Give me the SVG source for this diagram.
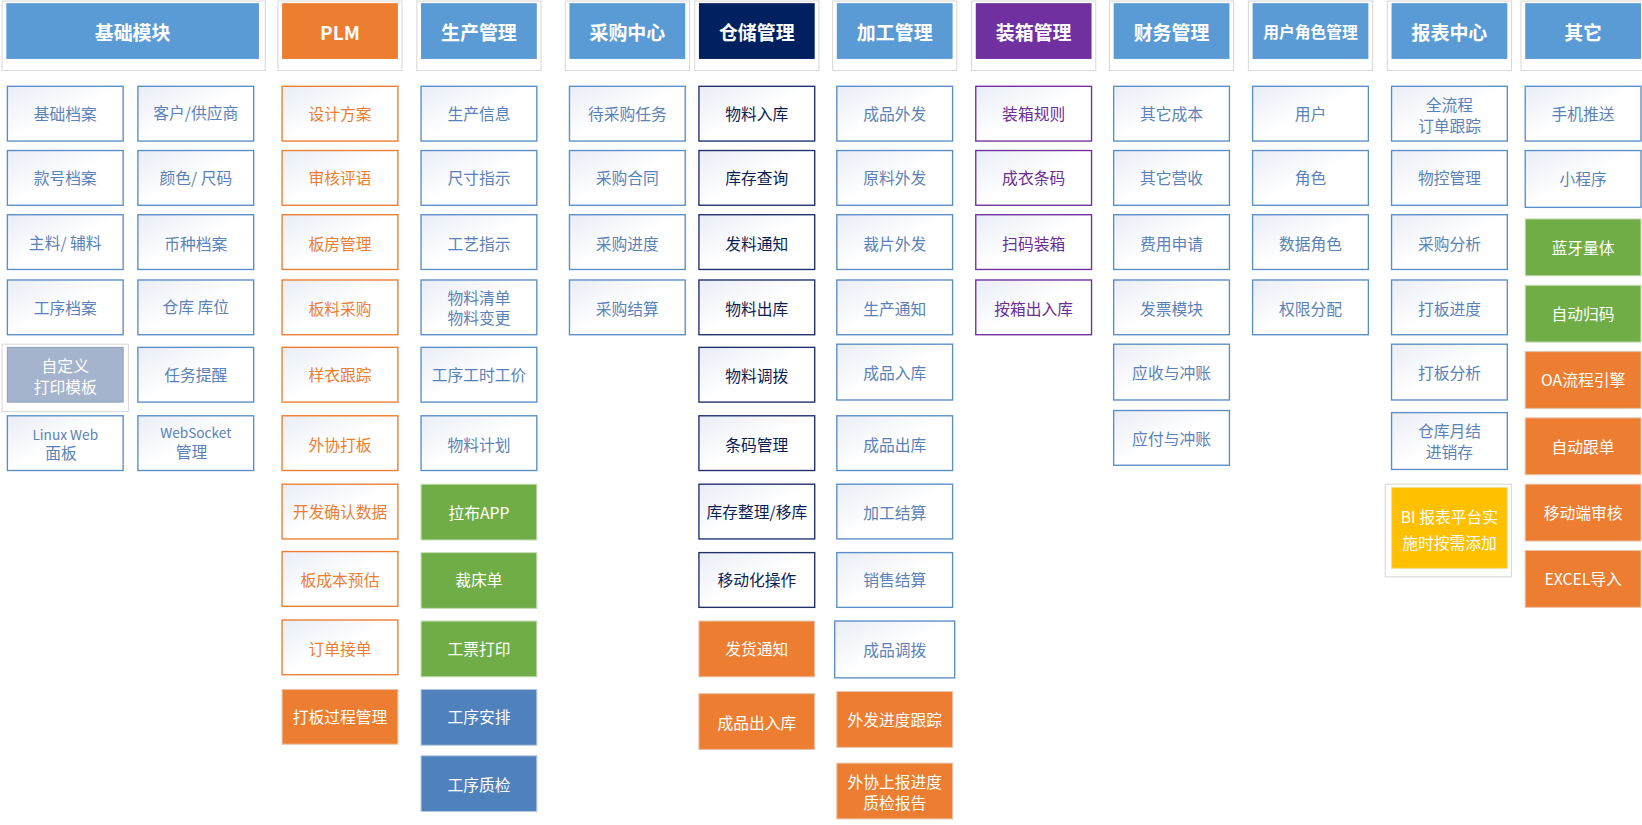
<svg xmlns="http://www.w3.org/2000/svg" width="1642" height="825" viewBox="0 0 1642 825">
<defs>
<linearGradient id="g" x1="0" y1="0" x2="1" y2="1"><stop offset="0" stop-color="#E9EDF6"/><stop offset="0.5" stop-color="#FFFFFF"/><stop offset="1" stop-color="#FFFFFF"/></linearGradient>
</defs>
<style>
text{font-family:"Noto Sans CJK SC","Liberation Sans",sans-serif;text-anchor:middle;dominant-baseline:central;font-size:15px}
.n rect{fill:url(#g);stroke:#5B8FC7;stroke-width:1.3}
.n text{fill:#5A82B8}
.o rect{fill:url(#g);stroke:#ED7D31;stroke-width:1.3}
.o text{fill:#ED7D31}
.k rect{fill:url(#g);stroke:#1F2F6B;stroke-width:1.3}
.k text{fill:#0B1D55}
.p rect{fill:url(#g);stroke:#7030A0;stroke-width:1.3}
.p text{fill:#6A2C95}
.fo rect{fill:#ED7D31;stroke:#E5C2A8;stroke-width:1}
.fg rect{fill:#70AD47;stroke:#C8DDB9;stroke-width:1}
.fb rect{fill:#4F81BD;stroke:#B8C9E0;stroke-width:1}
.fy rect{fill:#FFC000;stroke:#F0E0A0;stroke-width:1}
.fgr rect{fill:#A5B4CC;stroke:#8FA0BA;stroke-width:1}
.fo text,.fg text,.fb text,.fy text,.fgr text{fill:#FFFFFF}
.h rect.f{stroke:none}
.h text{fill:#FFFFFF;font-size:18px;font-weight:bold}
.fr{fill:#FFFFFF;stroke:#D9D9D9;stroke-width:1}
.fgr rect.fr,.fy rect.fr{fill:#FFFFFF;stroke:#D9D9D9}
</style>
<g transform="scale(1.0526)">
<g id="headers">
<g id="h1" class="h"><rect class="fr" x="2" y="1" width="250" height="66"/><rect class="f" x="6" y="3" width="240" height="53" fill="#5B9BD5"/><text x="126" y="30">基础模块</text></g>
<g id="h2" class="h"><rect class="fr" x="264" y="1" width="118" height="66"/><rect class="f" x="268" y="3" width="110" height="53" fill="#ED7D31"/><text x="323" y="30">PLM</text></g>
<g id="h3" class="h"><rect class="fr" x="396" y="1" width="118" height="66"/><rect class="f" x="400" y="3" width="110" height="53" fill="#5B9BD5"/><text x="455" y="30">生产管理</text></g>
<g id="h4" class="h"><rect class="fr" x="537" y="1" width="118" height="66"/><rect class="f" x="541" y="3" width="110" height="53" fill="#5B9BD5"/><text x="596" y="30">采购中心</text></g>
<g id="h5" class="h"><rect class="fr" x="660" y="1" width="118" height="66"/><rect class="f" x="664" y="3" width="110" height="53" fill="#002060"/><text x="719" y="30">仓储管理</text></g>
<g id="h6" class="h"><rect class="fr" x="791" y="1" width="118" height="66"/><rect class="f" x="795" y="3" width="110" height="53" fill="#5B9BD5"/><text x="850" y="30">加工管理</text></g>
<g id="h7" class="h"><rect class="fr" x="923" y="1" width="118" height="66"/><rect class="f" x="927" y="3" width="110" height="53" fill="#7030A0"/><text x="982" y="30">装箱管理</text></g>
<g id="h8" class="h"><rect class="fr" x="1054" y="1" width="118" height="66"/><rect class="f" x="1058" y="3" width="110" height="53" fill="#5B9BD5"/><text x="1113" y="30">财务管理</text></g>
<g id="h9" class="h"><rect class="fr" x="1186" y="1" width="118" height="66"/><rect class="f" x="1190" y="3" width="110" height="53" fill="#5B9BD5"/><text x="1245" y="30" style="font-size:15px">用户角色管理</text></g>
<g id="h10" class="h"><rect class="fr" x="1318" y="1" width="118" height="66"/><rect class="f" x="1322" y="3" width="110" height="53" fill="#5B9BD5"/><text x="1377" y="30">报表中心</text></g>
<g id="h11" class="h"><rect class="fr" x="1445" y="1" width="118" height="66"/><rect class="f" x="1449" y="3" width="110" height="53" fill="#5B9BD5"/><text x="1504" y="30">其它</text></g>
</g>
<g id="col1">
<g id="a1" class="n"><rect x="7" y="82" width="110" height="52"/><text x="62" y="108">基础档案</text></g>
<g id="a2" class="n"><rect x="7" y="143" width="110" height="52"/><text x="62" y="169">款号档案</text></g>
<g id="a3" class="n"><rect x="7" y="204" width="110" height="52"/><text x="62" y="230">主料/ 辅料</text></g>
<g id="a4" class="n"><rect x="7" y="266" width="110" height="52"/><text x="62" y="292">工序档案</text></g>
<g id="a5" class="fgr"><rect class="fr" x="2" y="327" width="120" height="64"/><rect x="7" y="330" width="110" height="52"/><text x="62" y="347">自定义</text><text x="62" y="367">打印模板</text></g>
<g id="a6" class="n"><rect x="7" y="395" width="110" height="52"/><text x="62" y="412" style="font-size:13px">Linux Web</text><text x="58" y="430">面板</text></g>
</g>
<g id="col2">
<g id="b1" class="n"><rect x="131" y="82" width="110" height="52"/><text x="186" y="107">客户/供应商</text></g>
<g id="b2" class="n"><rect x="131" y="143" width="110" height="52"/><text x="186" y="169">颜色/ 尺码</text></g>
<g id="b3" class="n"><rect x="131" y="204" width="110" height="52"/><text x="186" y="231">币种档案</text></g>
<g id="b4" class="n"><rect x="131" y="266" width="110" height="52"/><text x="186" y="291">仓库  库位</text></g>
<g id="b5" class="n"><rect x="131" y="330" width="110" height="52"/><text x="186" y="356">任务提醒</text></g>
<g id="b6" class="n"><rect x="131" y="395" width="110" height="52"/><text x="186" y="410" style="font-size:13px">WebSocket</text><text x="182" y="429">管理</text></g>
</g>
<g id="plm">
<g class="o" id="c1"><rect x="268" y="82" width="110" height="52"/><text x="323" y="108">设计方案</text></g>
<g class="o" id="c2"><rect x="268" y="143" width="110" height="52"/><text x="323" y="169">审核评语</text></g>
<g class="o" id="c3"><rect x="268" y="204" width="110" height="52"/><text x="323" y="231">板房管理</text></g>
<g class="o" id="c4"><rect x="268" y="266" width="110" height="52"/><text x="323" y="293">板料采购</text></g>
<g class="o" id="c5"><rect x="268" y="330" width="110" height="52"/><text x="323" y="356">样衣跟踪</text></g>
<g class="o" id="c6"><rect x="268" y="395" width="110" height="52"/><text x="323" y="422">外协打板</text></g>
<g class="o" id="c7"><rect x="268" y="460" width="110" height="52"/><text x="323" y="486">开发确认数据</text></g>
<g class="o" id="c8"><rect x="268" y="524" width="110" height="52"/><text x="323" y="551">板成本预估</text></g>
<g class="o" id="c9"><rect x="268" y="589" width="110" height="52"/><text x="323" y="616">订单接单</text></g>
<g class="fo" id="c10"><rect x="268" y="655" width="110" height="52"/><text x="323" y="681">打板过程管理</text></g>
</g>
<g id="prod">
<g class="n" id="d1"><rect x="400" y="82" width="110" height="52"/><text x="455" y="108">生产信息</text></g>
<g class="n" id="d2"><rect x="400" y="143" width="110" height="52"/><text x="455" y="169">尺寸指示</text></g>
<g class="n" id="d3"><rect x="400" y="204" width="110" height="52"/><text x="455" y="231">工艺指示</text></g>
<g class="n" id="d4"><rect x="400" y="266" width="110" height="52"/><text x="455" y="283">物料清单</text><text x="455" y="302">物料变更</text></g>
<g class="n" id="d5"><rect x="400" y="330" width="110" height="52"/><text x="455" y="356">工序工时工价</text></g>
<g class="n" id="d6"><rect x="400" y="395" width="110" height="52"/><text x="455" y="422">物料计划</text></g>
<g class="fg" id="d7"><rect x="400" y="460" width="110" height="53"/><text x="455" y="487">拉布APP</text></g>
<g class="fg" id="d8"><rect x="400" y="525" width="110" height="53"/><text x="455" y="551">裁床单</text></g>
<g class="fg" id="d9"><rect x="400" y="590" width="110" height="53"/><text x="455" y="616">工票打印</text></g>
<g class="fb" id="d10"><rect x="400" y="655" width="110" height="53"/><text x="455" y="681">工序安排</text></g>
<g class="fb" id="d11"><rect x="400" y="718" width="110" height="53"/><text x="455" y="745">工序质检</text></g>
</g>
<g id="purch">
<g class="n" id="e1"><rect x="541" y="82" width="110" height="52"/><text x="596" y="108">待采购任务</text></g>
<g class="n" id="e2"><rect x="541" y="143" width="110" height="52"/><text x="596" y="169">采购合同</text></g>
<g class="n" id="e3"><rect x="541" y="204" width="110" height="52"/><text x="596" y="231">采购进度</text></g>
<g class="n" id="e4"><rect x="541" y="266" width="110" height="52"/><text x="596" y="293">采购结算</text></g>
</g>
<g id="wh">
<g class="k" id="f1"><rect x="664" y="82" width="110" height="52"/><text x="719" y="108">物料入库</text></g>
<g class="k" id="f2"><rect x="664" y="143" width="110" height="52"/><text x="719" y="169">库存查询</text></g>
<g class="k" id="f3"><rect x="664" y="204" width="110" height="52"/><text x="719" y="231">发料通知</text></g>
<g class="k" id="f4"><rect x="664" y="266" width="110" height="52"/><text x="719" y="293">物料出库</text></g>
<g class="k" id="f5"><rect x="664" y="330" width="110" height="52"/><text x="719" y="357">物料调拨</text></g>
<g class="k" id="f6"><rect x="664" y="395" width="110" height="52"/><text x="719" y="422">条码管理</text></g>
<g class="k" id="f7"><rect x="664" y="460" width="110" height="52"/><text x="719" y="486">库存整理/移库</text></g>
<g class="k" id="f8"><rect x="664" y="525" width="110" height="52"/><text x="719" y="551">移动化操作</text></g>
<g class="fo" id="f9"><rect x="664" y="590" width="110" height="53"/><text x="719" y="616">发货通知</text></g>
<g class="fo" id="f10"><rect x="664" y="659" width="110" height="53"/><text x="719" y="686">成品出入库</text></g>
</g>
<g id="proc">
<g class="n" id="g1"><rect x="795" y="82" width="110" height="52"/><text x="850" y="108">成品外发</text></g>
<g class="n" id="g2"><rect x="795" y="143" width="110" height="52"/><text x="850" y="169">原料外发</text></g>
<g class="n" id="g3"><rect x="795" y="204" width="110" height="52"/><text x="850" y="231">裁片外发</text></g>
<g class="n" id="g4"><rect x="795" y="266" width="110" height="52"/><text x="850" y="293">生产通知</text></g>
<g class="n" id="g5"><rect x="795" y="327" width="110" height="53"/><text x="850" y="354">成品入库</text></g>
<g class="n" id="g6"><rect x="795" y="395" width="110" height="52"/><text x="850" y="422">成品出库</text></g>
<g class="n" id="g7"><rect x="795" y="460" width="110" height="52"/><text x="850" y="487">加工结算</text></g>
<g class="n" id="g8"><rect x="795" y="525" width="110" height="52"/><text x="850" y="551">销售结算</text></g>
<g class="n" id="g9"><rect x="793" y="590" width="114" height="54"/><text x="850" y="617">成品调拨</text></g>
<g class="fo" id="g10"><rect x="795" y="657" width="110" height="53"/><text x="850" y="684">外发进度跟踪</text></g>
<g class="fo" id="g11"><rect x="795" y="725" width="110" height="53"/><text x="850" y="742">外协上报进度</text><text x="850" y="762">质检报告</text></g>
</g>
<g id="pack">
<g class="p" id="p1"><rect x="927" y="82" width="110" height="52"/><text x="982" y="108">装箱规则</text></g>
<g class="p" id="p2"><rect x="927" y="143" width="110" height="52"/><text x="982" y="169">成衣条码</text></g>
<g class="p" id="p3"><rect x="927" y="204" width="110" height="52"/><text x="982" y="231">扫码装箱</text></g>
<g class="p" id="p4"><rect x="927" y="266" width="110" height="52"/><text x="982" y="293">按箱出入库</text></g>
</g>
<g id="fin">
<g class="n" id="q1"><rect x="1058" y="82" width="110" height="52"/><text x="1113" y="108">其它成本</text></g>
<g class="n" id="q2"><rect x="1058" y="143" width="110" height="52"/><text x="1113" y="169">其它营收</text></g>
<g class="n" id="q3"><rect x="1058" y="204" width="110" height="52"/><text x="1113" y="231">费用申请</text></g>
<g class="n" id="q4"><rect x="1058" y="266" width="110" height="52"/><text x="1113" y="293">发票模块</text></g>
<g class="n" id="q5"><rect x="1058" y="327" width="110" height="53"/><text x="1113" y="354">应收与冲账</text></g>
<g class="n" id="q6"><rect x="1058" y="390" width="110" height="52"/><text x="1113" y="417">应付与冲账</text></g>
</g>
<g id="user">
<g class="n" id="u1"><rect x="1190" y="82" width="110" height="52"/><text x="1245" y="108">用户</text></g>
<g class="n" id="u2"><rect x="1190" y="143" width="110" height="52"/><text x="1245" y="169">角色</text></g>
<g class="n" id="u3"><rect x="1190" y="204" width="110" height="52"/><text x="1245" y="231">数据角色</text></g>
<g class="n" id="u4"><rect x="1190" y="266" width="110" height="52"/><text x="1245" y="293">权限分配</text></g>
</g>
<g id="rep">
<g class="n" id="r1"><rect x="1322" y="82" width="110" height="52"/><text x="1377" y="99">全流程</text><text x="1377" y="119">订单跟踪</text></g>
<g class="n" id="r2"><rect x="1322" y="143" width="110" height="52"/><text x="1377" y="169">物控管理</text></g>
<g class="n" id="r3"><rect x="1322" y="204" width="110" height="52"/><text x="1377" y="231">采购分析</text></g>
<g class="n" id="r4"><rect x="1322" y="266" width="110" height="52"/><text x="1377" y="293">打板进度</text></g>
<g class="n" id="r5"><rect x="1322" y="327" width="110" height="53"/><text x="1377" y="354">打板分析</text></g>
<g class="n" id="r6"><rect x="1322" y="392" width="110" height="54"/><text x="1377" y="409">仓库月结</text><text x="1377" y="429">进销存</text></g>
<g class="fy" id="r7"><rect class="fr" x="1316" y="460" width="120" height="88"/><rect x="1322" y="463" width="110" height="77"/><text x="1377" y="491">BI 报表平台实</text><text x="1377" y="515">施时按需添加</text></g>
</g>
<g id="other">
<g class="n" id="s1"><rect x="1449" y="82" width="110" height="52"/><text x="1504" y="108">手机推送</text></g>
<g class="n" id="s2"><rect x="1449" y="143" width="110" height="54"/><text x="1504" y="170">小程序</text></g>
<g class="fg" id="s3"><rect x="1449" y="208" width="110" height="54"/><text x="1504" y="235">蓝牙量体</text></g>
<g class="fg" id="s4"><rect x="1449" y="271" width="110" height="54"/><text x="1504" y="298">自动归码</text></g>
<g class="fo" id="s5"><rect x="1449" y="334" width="110" height="54"/><text x="1504" y="361">OA流程引擎</text></g>
<g class="fo" id="s6"><rect x="1449" y="397" width="110" height="54"/><text x="1504" y="424">自动跟单</text></g>
<g class="fo" id="s7"><rect x="1449" y="460" width="110" height="54"/><text x="1504" y="487">移动端审核</text></g>
<g class="fo" id="s8"><rect x="1449" y="523" width="110" height="54"/><text x="1504" y="550">EXCEL导入</text></g>
</g>
<g id="connectors"/>
</g>
</svg>
